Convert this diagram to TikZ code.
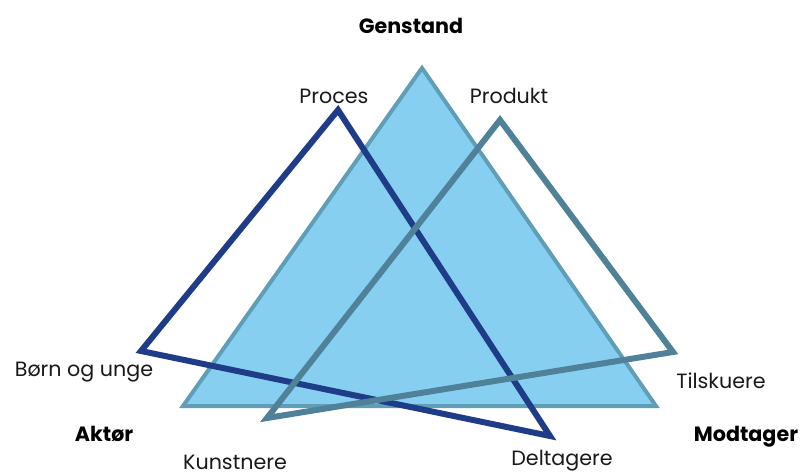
\documentclass[tikz,border=0pt]{standalone}
\usepackage{fontspec}
\setmainfont{Poppins}
\definecolor{fillblue}{HTML}{86CFF0}
\definecolor{edgeblue}{HTML}{609EB8}
\definecolor{navy}{HTML}{1E3C88}
\definecolor{slate}{HTML}{4F8199}
\begin{document}
\begin{tikzpicture}[x=0.75pt,y=-0.75pt,
	lbl/.style={font=\fontsize{15.5}{17}\selectfont, text=black!90, inner sep=0pt},
	head/.style={font=\fontsize{15.5}{17}\selectfont\bfseries, inner sep=0pt},
	tri/.style={line width=4.5pt, line join=miter}]
	\useasboundingbox (0,0) rectangle (804,475);
	% corners
	\coordinate (gtop) at (422,68);
	\coordinate (gleft) at (183,406);
	\coordinate (gright) at (656,406);
	\coordinate (ptop) at (338,110);
	\coordinate (pleft) at (141,351);
	\coordinate (pright) at (550,436);
	\coordinate (ktop) at (500,120);
	\coordinate (kright) at (673,352);
	\coordinate (kleft) at (267,418);
	\draw[fill=fillblue, draw=edgeblue, line width=3pt] (gtop) -- (gright) -- (gleft) -- cycle;
	\draw[tri, draw=navy] (ptop) -- (pright) -- (pleft) -- cycle;
	\draw[tri, draw=slate] (ktop) -- (kright) -- (kleft) -- cycle;
	% labels
	\node[head] (genstand) at (411,26) {Genstand};
	\node[head] (aktor) at (104,434) {Aktør};
	\node[head] (modtager) at (746,437) {Modtager};
	\node[lbl] (proces) at (334,96) {Proces};
	\node[lbl] (produkt) at (509,96) {Produkt};
	\node[lbl] (born) at (84,372) {Børn og unge};
	\node[lbl] (tilskuere) at (721,381) {Tilskuere};
	\node[lbl] (kunstnere) at (235,462) {Kunstnere};
	\node[lbl] (deltagere) at (562,461) {Deltagere};
\end{tikzpicture}
\end{document}
